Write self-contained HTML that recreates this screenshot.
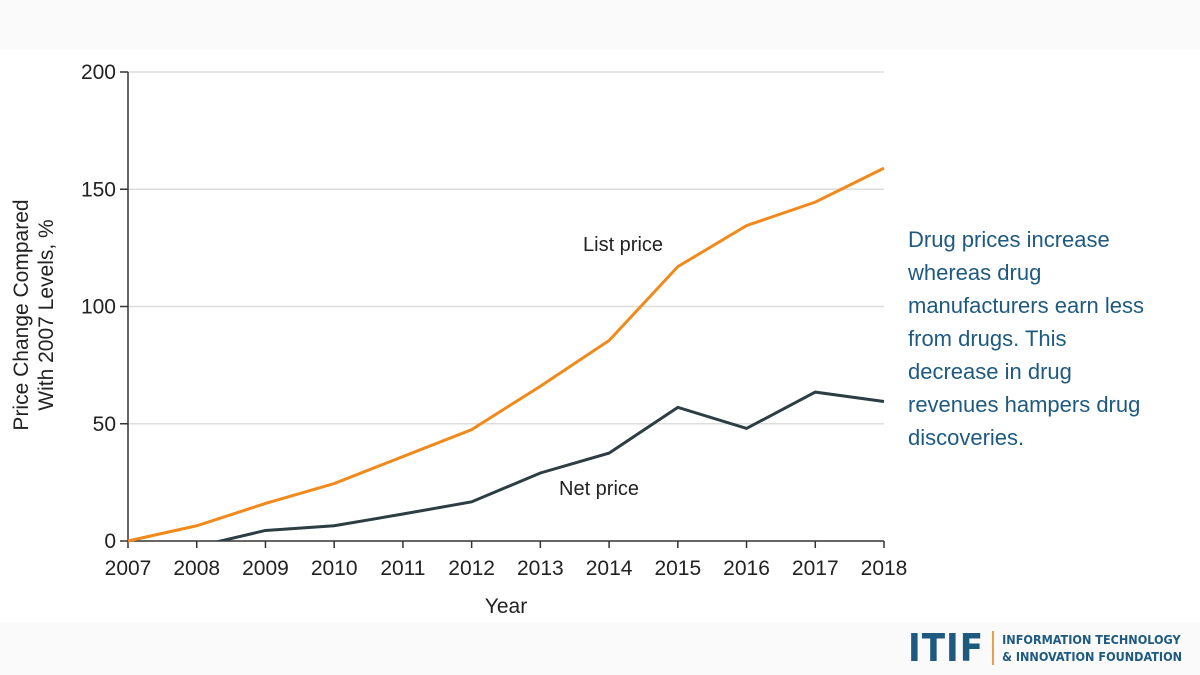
<!DOCTYPE html>
<html><head><meta charset="utf-8"><style>
body{margin:0;width:1200px;height:675px;background:#fff;overflow:hidden;font-family:"Liberation Sans",sans-serif;position:relative}
.band{position:absolute;left:0;width:1200px;background:#fafafa}
.note{position:absolute;left:908px;top:223px;width:248px;font-size:22px;line-height:33px;color:#1e5a80}
.logo{position:absolute;left:908px;top:629px;display:flex;align-items:center;white-space:nowrap}
.itif{font-family:"DejaVu Sans Condensed","Liberation Sans",sans-serif;font-weight:bold;font-size:38px;line-height:38px;color:#1e5a80;letter-spacing:1px}
.bar{width:2px;height:34px;background:#e8a04a;margin:0 8px 0 8px}
.org{font-family:"DejaVu Sans Condensed","Liberation Sans",sans-serif;font-weight:bold;font-size:12.5px;line-height:17px;color:#1e5a80;white-space:nowrap}
</style></head><body>
<div class="band" style="top:0;height:50px"></div>
<div class="band" style="top:622px;height:53px"></div>
<svg id="c" width="1200" height="675" style="position:absolute;left:0;top:0"></svg>
<div class="note">Drug prices increase whereas drug manufacturers earn less from drugs. This decrease in drug revenues hampers drug discoveries.</div>
<div class="logo"><span class="itif">ITIF</span><div class="bar"></div><div class="org">INFORMATION TECHNOLOGY<br>&amp; INNOVATION FOUNDATION</div></div>
<script>
const years=[2007,2008,2009,2010,2011,2012,2013,2014,2015,2016,2017,2018];
const listPrice=[0,6.5,16,24.5,36,47.5,66,85.5,117,134.5,144.5,159];
const netPrice=[-2.4,-2.4,4.5,6.5,11.5,16.7,29,37.5,57,48,63.5,59.5];
const netYears=[2007,2008,2009,2010,2011,2012,2013,2014,2015,2016,2017,2018];
const yTicks=[0,50,100,150,200];
const NS="http://www.w3.org/2000/svg";
const svg=document.getElementById('c');
const x=v=>128+(v-2007)*(884-128)/11;
const y=v=>541-v*(541-72)/200;
function el(t,a,p){const e=document.createElementNS(NS,t);for(const k in a)e.setAttribute(k,a[k]);(p||svg).appendChild(e);return e;}
const font='"Liberation Sans",sans-serif';
const defs=el('defs',{});const cp=el('clipPath',{id:'cl'},defs);el('rect',{x:128,y:0,width:760,height:541},cp);
yTicks.forEach(t=>{
 if(t>0){const g=el('line',{x1:128,x2:884,y1:y(t),y2:y(t),stroke:'#ddd','stroke-width':1.5});}
 el('line',{x1:120,x2:128,y1:y(t),y2:y(t),stroke:'#333','stroke-width':1.5});
 const tx=el('text',{x:116,y:y(t)+7,'text-anchor':'end','font-size':21,fill:'#222','font-family':font});tx.textContent=t;
 
});
el('line',{x1:128,x2:128,y1:72,y2:541,stroke:'#333','stroke-width':1.5});
el('line',{x1:128,x2:884,y1:541,y2:541,stroke:'#333','stroke-width':1.5});
years.forEach(yr=>{
 el('line',{x1:x(yr),x2:x(yr),y1:541,y2:548,stroke:'#333','stroke-width':1.5});
 const tx=el('text',{x:x(yr),y:575,'text-anchor':'middle','font-size':21,fill:'#222','font-family':font});tx.textContent=yr;
 
});
let t=el('text',{x:506,y:613,'text-anchor':'middle','font-size':21,fill:'#222','font-family':font});t.textContent='Year';

t=el('text',{transform:'translate(28,315) rotate(-90)','text-anchor':'middle','font-size':21,fill:'#222','font-family':font});
el('tspan',{x:0,dy:0},t).textContent='Price Change Compared';el('tspan',{x:0,dy:25},t).textContent='With 2007 Levels, %';

let p=el('polyline',{points:years.map((yr,i)=>x(yr)+','+y(listPrice[i])).join(' '),fill:'none',stroke:'#f08a1c','stroke-width':3});

p=el('polyline',{points:netYears.map((yr,i)=>x(yr)+','+y(netPrice[i])).join(' '),fill:'none',stroke:'#2c3e44','stroke-width':3,'clip-path':'url(#cl)'});

t=el('text',{x:583,y:251,'font-size':20,fill:'#222','font-family':font});t.textContent='List price';

t=el('text',{x:559,y:495,'font-size':20,fill:'#222','font-family':font});t.textContent='Net price';

</script>
</body></html>
